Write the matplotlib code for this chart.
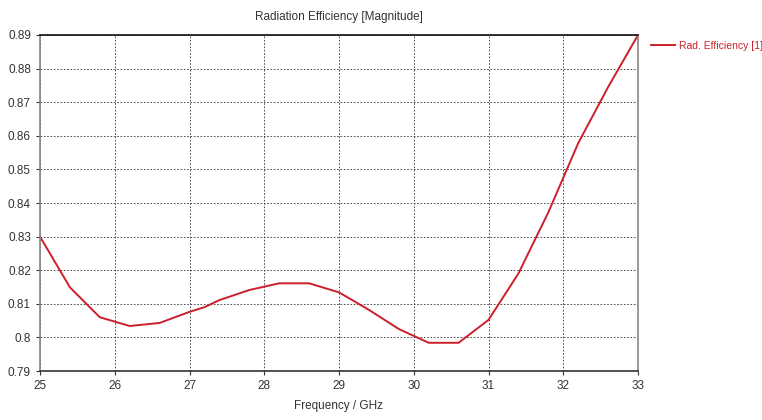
import matplotlib.pyplot as plt
import numpy as np

freq = [25.0, 25.4, 25.8, 26.2, 26.6, 27.0, 27.2, 27.4, 27.8, 28.2, 28.6, 29.0,
        29.4, 29.8, 30.2, 30.6, 31.0, 31.4, 31.8, 32.2, 32.6, 33.0]
eff = [0.830, 0.8149, 0.806, 0.8034, 0.8043, 0.8076, 0.8090, 0.8111, 0.8141,
       0.8161, 0.8161, 0.8134, 0.8082, 0.8025, 0.7984, 0.7984, 0.8052, 0.8190,
       0.8372, 0.8578, 0.8745, 0.890]

xticks = [25, 26, 27, 28, 29, 30, 31, 32, 33]
yticks = [0.79, 0.8, 0.81, 0.82, 0.83, 0.84, 0.85, 0.86, 0.87, 0.88, 0.89]
ylabels = ["0.79", "0.8", "0.81", "0.82", "0.83", "0.84", "0.85", "0.86", "0.87", "0.88", "0.89"]

plt.rcParams['font.family'] = ['Liberation Sans Narrow', 'Liberation Sans', 'DejaVu Sans']
txt = '#333333'

fig = plt.figure(figsize=(7.62, 4.2), dpi=100)
ax = fig.add_axes([40 / 762, 49 / 420, 598 / 762, 336 / 420])

ax.plot(freq, eff, color='#cc1f2b', lw=1.4, label='Rad. Efficiency [1]')

ax.set_xlim(25, 33)
ax.set_ylim(0.79, 0.89)
ax.set_xticks(xticks)
ax.set_yticks(yticks)
ax.set_yticklabels(ylabels)
ax.tick_params(labelsize=8.5, colors=txt, length=3, width=0.8)
ax.grid(True, color='#333333', ls=(0, (2, 2)), lw=0.6)

ax.spines['top'].set_color('#111111')
ax.spines['bottom'].set_color('#333333')
ax.spines['left'].set_color('#888888')
ax.spines['right'].set_color('#888888')
for s in ax.spines.values():
    s.set_linewidth(1.2)

ax.set_title('Radiation Efficiency [Magnitude]', fontsize=8.5, color=txt, pad=11)
ax.set_xlabel('Frequency / GHz', fontsize=8.5, color=txt, labelpad=6)

leg = ax.legend(loc='upper left', bbox_to_anchor=(1.015, 0.995), frameon=False,
                fontsize=7.5, handlelength=2.3, handletextpad=0.4, borderaxespad=0)
for t in leg.get_texts():
    t.set_color('#cc1f2b')

fig.savefig('out.png', dpi=100)
